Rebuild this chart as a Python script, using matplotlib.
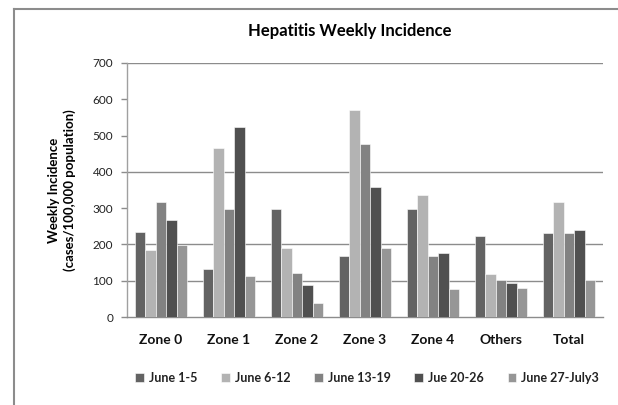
import matplotlib
matplotlib.use("Agg")
import matplotlib.pyplot as plt
import numpy as np
from matplotlib.lines import Line2D

categories = ["Zone 0", "Zone 1", "Zone 2", "Zone 3", "Zone 4", "Others", "Total"]
series_names = ["June 1-5", "June 6-12", "June 13-19", "Jue 20-26", "June 27-July3"]
june_1_5 = [234, 132, 298, 168, 298, 223, 231]
june_6_12 = [185, 466, 190, 570, 336, 118, 317]
june_13_19 = [317, 298, 121, 477, 168, 102, 231]
june_20_26 = [267, 524, 88, 359, 176, 94, 240]
june_27_july3 = [198, 113, 38, 190, 77, 80, 101]
series_values = [june_1_5, june_6_12, june_13_19, june_20_26, june_27_july3]
colors = ["#636363", "#b3b3b3", "#828282", "#505050", "#969696"]
yticks = [0, 100, 200, 300, 400, 500, 600, 700]
grid_values = [100, 200, 400, 700]

plt.rcParams['font.family'] = ['Lato', 'DejaVu Sans']

fig = plt.figure(figsize=(6.18, 4.05), dpi=100)
ax = fig.add_axes([127/618, 1-317/405, (603-127)/618, (317-63)/405])

x = np.arange(len(categories))
bw = 0.153
for i, (name, vals, c) in enumerate(zip(series_names, series_values, colors)):
    ax.bar(x + (i - 2) * bw, vals, width=bw, color=c, edgecolor="white",
           linewidth=0.4, label=name, zorder=3)

ax.set_xlim(-0.5, len(categories) - 0.5)
ax.set_ylim(0, 700)
ax.set_yticks(yticks)
ax.set_yticklabels([str(v) for v in yticks], fontsize=8.5, color="#222222")
for g in grid_values:
    ax.axhline(g, color="#8c8c8c", linewidth=1.0, zorder=1)

ax.set_xticks(x)
ax.set_xticklabels(categories, fontsize=10, fontweight="bold", color="#111111")
ax.tick_params(axis="x", length=0, pad=12)
ax.tick_params(axis="y", length=4, width=1, color="#8c8c8c", pad=6)

for s in ["top", "right"]:
    ax.spines[s].set_visible(False)
ax.spines["left"].set_color("#a0a0a0")
ax.spines["bottom"].set_color("#8c8c8c")
ax.spines["left"].set_linewidth(1.0)
ax.spines["bottom"].set_linewidth(1.0)

ax.set_ylabel("Weekly Incidence\n(cases/100,000 population)", fontsize=9.5,
              fontweight="bold", labelpad=12, linespacing=1.3)

fig.text(350/618, 1-31/405, "Hepatitis Weekly Incidence", ha="center", va="center",
         fontsize=12, fontweight="bold")

leg = fig.legend(loc="center", bbox_to_anchor=(367/618, 1-378/405), ncol=5,
                 frameon=False, fontsize=9, handlelength=0.7, handleheight=0.7,
                 columnspacing=1.9, handletextpad=0.4)
for t in leg.get_texts():
    t.set_fontweight("bold")
    t.set_color("#222222")

fig.add_artist(Line2D([14/618, 1], [1-9/405, 1-9/405], transform=fig.transFigure,
                      color="#8c8c8c", linewidth=1.5))
fig.add_artist(Line2D([14/618, 14/618], [1-9/405, 0], transform=fig.transFigure,
                      color="#8c8c8c", linewidth=1.5))

fig.savefig("out.png", dpi=100)
